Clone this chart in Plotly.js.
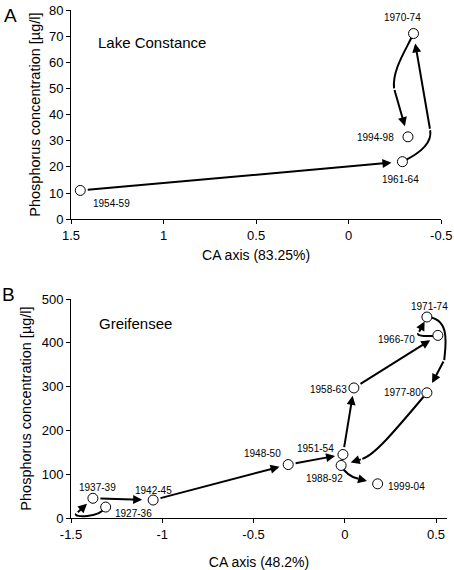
<!DOCTYPE html>
<html><head><meta charset="utf-8">
<script src="https://cdn.plot.ly/plotly-3.0.1.min.js"></script>
<style>html,body{margin:0;padding:0;background:#fff}#chart{width:454px;height:570px}</style>
</head><body><div id="chart"></div>
<script>
// ---- Data: Lake Constance (panel A), chronological order ----
const constanceLabels = ['1954-59', '1961-64', '1970-74', '1994-98'];
const constanceCA = [1.45, -0.29, -0.35, -0.32];
const constanceP = [11, 22, 71, 31.5];

// ---- Data: Greifensee (panel B), chronological order ----
const greifenseeLabels = ['1927-36', '1937-39', '1942-45', '1948-50', '1951-54', '1958-63',
  '1966-70', '1971-74', '1977-80', '1988-92', '1999-04'];
const greifenseeCA = [-1.31, -1.38, -1.05, -0.31, -0.01, 0.05, 0.51, 0.45, 0.45, -0.02, 0.18];
const greifenseeP = [25, 45, 41, 122, 145, 297, 417, 459, 286, 120, 78];

// ---- Tick labels ----
const xTickValsA = [1.5, 1, 0.5, 0, -0.5];
const xTickTextA = ['1.5', '1', '0.5', '0', '-0.5'];
const xTickValsB = [-1.5, -1, -0.5, 0, 0.5];
const xTickTextB = ['-1.5', '-1', '-0.5', '0', '0.5'];

// ---- Layout helpers (positions/styles, not data) ----
// label offsets in px [xshift, yshift]
const labelShiftA = [[31, -13], [-2, -18], [-11, 16], [-32, -1]];
const labelShiftB = [[28, -6], [5, 11], [0, 10], [-26, 11], [-27, 6], [-25, -2],
  [-41, -4], [3, 11], [-24, 0], [-17, -13], [29, -3]];
// arrow routing for step i -> i+1: null = straight, else cubic bend ending at m
const bendA = [
  null,
  {c1: [-0.38, 25], c2: [-0.452, 29], m: [-0.44, 34]},
  {c1: [-0.304, 64.1], c2: [-0.234, 56.9], m: [-0.245, 50]}
];
const standoffA = [11, 10, 11];
const bendB = [
  {c1: [-1.339, 0.7], c2: [-1.495, 0.5], m: [-1.471, 9.8]},
  null, null, null, null, null,
  {c1: [0.462, 415], c2: [0.39, 414], m: [0.403, 422]},
  {c1: [0.585, 456], c2: [0.55, 390], m: [0.545, 360.6]},
  {c1: [0.261, 192], c2: [0.159, 143], m: [0.096, 135]},
  {c1: [0.003, 101], c2: [0.042, 93], m: [0.074, 89.5]}
];
const standoffB = [8, 11, 9, 8, 8, 9, 5, 11, 10, 11];

const FONT = 'Liberation Sans, Arial, Helvetica, sans-serif';
const shapes = [];
const annotations = [];

function addArrows(xs, ys, bends, standoffs, xr, yr) {
  for (let i = 0; i < xs.length - 1; i++) {
    const b = bends[i];
    let tailX = xs[i], tailY = ys[i], startSO = 6;
    if (b) {
      shapes.push({
        type: 'path', xref: xr, yref: yr, layer: 'below',
        path: 'M' + xs[i] + ',' + ys[i] + ' C' + b.c1[0] + ',' + b.c1[1] + ' ' +
          b.c2[0] + ',' + b.c2[1] + ' ' + b.m[0] + ',' + b.m[1],
        line: {color: '#000', width: 2}
      });
      tailX = b.m[0]; tailY = b.m[1]; startSO = 0;
    }
    annotations.push({
      xref: xr, yref: yr, axref: xr, ayref: yr,
      x: xs[i + 1], y: ys[i + 1], ax: tailX, ay: tailY,
      text: '', showarrow: true, arrowhead: 2, arrowsize: 0.9, arrowwidth: 2,
      arrowcolor: '#000', standoff: standoffs[i], startstandoff: startSO
    });
  }
}
function addLabels(xs, ys, labels, shifts, xr, yr) {
  labels.forEach((t, i) => annotations.push({
    xref: xr, yref: yr, x: xs[i], y: ys[i], text: t, showarrow: false,
    xshift: shifts[i][0], yshift: shifts[i][1],
    font: {family: FONT, size: 10, color: '#000'}
  }));
}
addArrows(constanceCA, constanceP, bendA, standoffA, 'x', 'y');
addArrows(greifenseeCA, greifenseeP, bendB, standoffB, 'x2', 'y2');
addLabels(constanceCA, constanceP, constanceLabels, labelShiftA, 'x', 'y');
addLabels(greifenseeCA, greifenseeP, greifenseeLabels, labelShiftB, 'x2', 'y2');

annotations.push(
  {xref: 'x domain', yref: 'y domain', x: 0.068, y: 0.845, xanchor: 'left', yanchor: 'middle',
   text: 'Lake Constance', showarrow: false, font: {family: FONT, size: 15, color: '#000'}},
  {xref: 'x2 domain', yref: 'y2 domain', x: 0.07, y: 0.889, xanchor: 'left', yanchor: 'middle',
   text: 'Greifensee', showarrow: false, font: {family: FONT, size: 15, color: '#000'}},
  {xref: 'paper', yref: 'paper', x: -0.160, y: 0.989, xanchor: 'center', yanchor: 'middle',
   text: 'A', showarrow: false, font: {family: FONT, size: 19, color: '#000'}},
  {xref: 'paper', yref: 'paper', x: -0.165, y: 0.439, xanchor: 'center', yanchor: 'middle',
   text: 'B', showarrow: false, font: {family: FONT, size: 19, color: '#000'}}
);

const markerStyle = {symbol: 'circle', size: 10, color: '#fff', line: {color: '#000', width: 1}};
const traces = [
  {type: 'scatter', mode: 'markers', x: constanceCA, y: constanceP, xaxis: 'x', yaxis: 'y',
   marker: markerStyle, hoverinfo: 'skip', cliponaxis: false},
  {type: 'scatter', mode: 'markers', x: greifenseeCA, y: greifenseeP, xaxis: 'x2', yaxis: 'y2',
   marker: markerStyle, hoverinfo: 'skip', cliponaxis: false}
];

const axisBase = {
  showgrid: false, zeroline: false, showline: true, linecolor: '#000', linewidth: 1,
  ticks: 'outside', ticklen: 4, tickcolor: '#000', tickwidth: 1,
  tickfont: {family: FONT, size: 13, color: '#000'}, fixedrange: true
};
const layout = {
  width: 454, height: 570,
  margin: {l: 70.7, r: 7.3, t: 9.5, b: 51.7},
  paper_bgcolor: '#fff', plot_bgcolor: '#fff',
  showlegend: false,
  font: {family: FONT, color: '#000'},
  xaxis: Object.assign({}, axisBase, {
    domain: [0, 0.9848], range: [1.5, -0.5], autorange: false,
    tickvals: xTickValsA, ticktext: xTickTextA, anchor: 'y',
    title: {text: 'CA axis (83.25%)', font: {family: FONT, size: 14, color: '#000'}, standoff: 8}
  }),
  yaxis: Object.assign({}, axisBase, {
    domain: [0.5882, 1], range: [0, 80], dtick: 10, anchor: 'x',
    title: {text: 'Phosphorus concentration [µg/l]', font: {family: FONT, size: 14.5, color: '#000'}, standoff: 4}
  }),
  xaxis2: Object.assign({}, axisBase, {
    domain: [0, 1], range: [-1.5, 0.56], autorange: false,
    tickvals: xTickValsB, ticktext: xTickTextB, anchor: 'y2',
    title: {text: 'CA axis (48.2%)', font: {family: FONT, size: 14, color: '#000'}, standoff: 20}
  }),
  yaxis2: Object.assign({}, axisBase, {
    domain: [0, 0.431], range: [0, 500], dtick: 100, anchor: 'x2',
    title: {text: 'Phosphorus concentration [µg/l]', font: {family: FONT, size: 14.5, color: '#000'}, standoff: 6}
  }),
  shapes: shapes,
  annotations: annotations
};
Plotly.newPlot('chart', traces, layout, {displayModeBar: false, staticPlot: true});
</script>
</body></html>
